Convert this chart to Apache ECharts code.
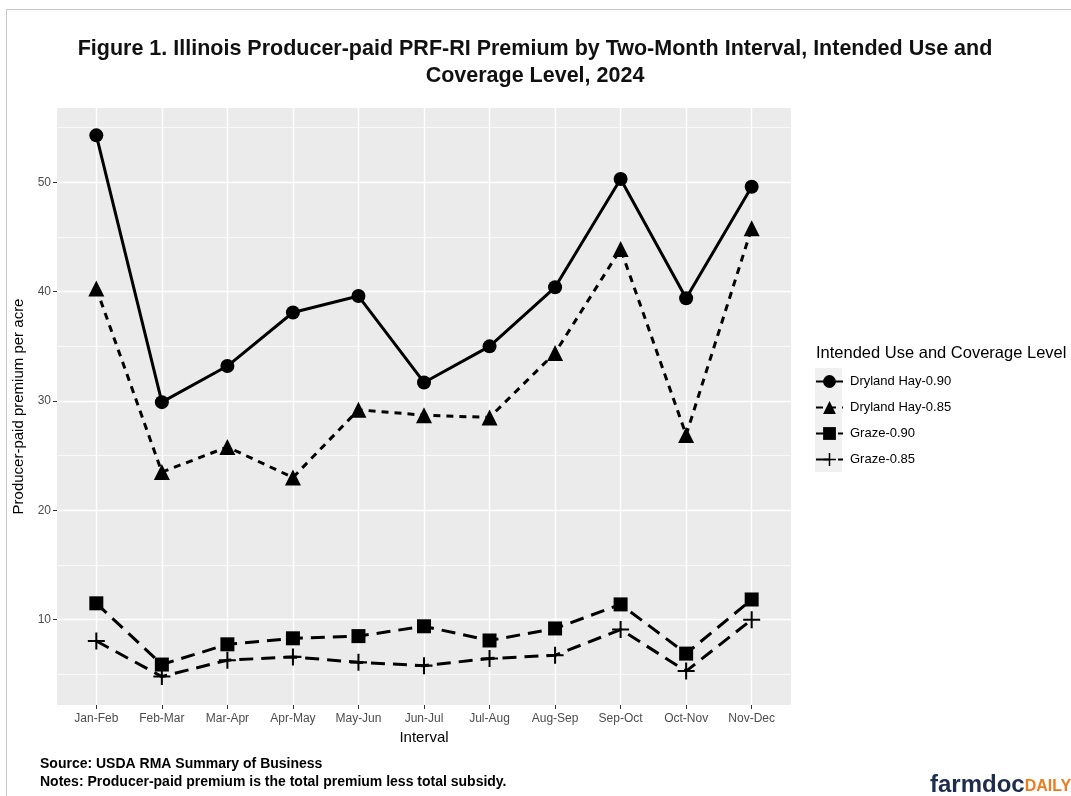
<!DOCTYPE html>
<html>
<head>
<meta charset="utf-8">
<script src="https://cdn.jsdelivr.net/npm/echarts@6/dist/echarts.min.js"></script>
<style>
  html, body { margin: 0; padding: 0; background: #fff; }
  #chart { width: 1071px; height: 796px; }
</style>
</head>
<body>
<div id="chart"></div>
<script>
// two-month intervals
var intervals = ['Jan-Feb', 'Feb-Mar', 'Mar-Apr', 'Apr-May', 'May-Jun', 'Jun-Jul',
                 'Jul-Aug', 'Aug-Sep', 'Sep-Oct', 'Oct-Nov', 'Nov-Dec'];

// producer-paid premium per acre
var hay90   = [54.3, 29.9, 33.2, 38.1, 39.6, 31.7, 35.0, 40.4, 50.3, 39.4, 49.6];
var hay85   = [40.3, 23.5, 25.8, 23.0, 29.2, 28.7, 28.5, 34.4, 43.9, 26.9, 45.8];
var graze90 = [11.5, 5.9, 7.75, 8.3, 8.5, 9.4, 8.1, 9.2, 11.4, 6.9, 11.85];
var graze85 = [8.05, 4.8, 6.3, 6.6, 6.1, 5.8, 6.45, 6.75, 9.1, 5.3, 10.0];

var seriesNames = ['Dryland Hay-0.90', 'Dryland Hay-0.85', 'Graze-0.90', 'Graze-0.85'];

var yMajor = [10, 20, 30, 40, 50];
var yMinor = [5, 15, 25, 35, 45, 55];

var plusPath = 'path://M4.4,0 H5.6 V4.4 H10 V5.6 H5.6 V10 H4.4 V5.6 H0 V4.4 H4.4 Z';

function pairs(vals) {
  var out = [];
  for (var i = 0; i < vals.length; i++) out.push([i, vals[i]]);
  return out;
}

function makeSeries(name, vals, symbol, size, dash, width) {
  return {
    name: name,
    type: 'line',
    xAxisIndex: 0,
    yAxisIndex: 0,
    data: pairs(vals),
    symbol: symbol,
    symbolSize: size,
    showAllSymbol: true,
    color: '#000',
    lineStyle: { color: '#000', width: width, type: dash },
    itemStyle: { color: '#000' },
    emphasis: { disabled: true },
    z: 3
  };
}

var font = '"Liberation Sans", Arial, sans-serif';
var chart = echarts.init(document.getElementById('chart'), null, { renderer: 'canvas' });

var option = {
  backgroundColor: '#fff',
  animation: false,
  textStyle: { fontFamily: font },
  title: [
    {
      text: 'Figure 1. Illinois Producer-paid PRF-RI Premium by Two-Month Interval, Intended Use and\nCoverage Level, 2024',
      left: 535, top: 36, textAlign: 'center', padding: 0,
      textStyle: { fontSize: 21.5, fontWeight: 'bold', color: '#111', lineHeight: 27, fontFamily: font }
    },
    {
      text: 'Intended Use and Coverage Level',
      left: 816, top: 345, padding: 0,
      textStyle: { fontSize: 16.5, fontWeight: 'normal', color: '#000', fontFamily: font }
    },
    {
      text: 'Source: USDA RMA Summary of Business\nNotes: Producer-paid premium is the total premium less total subsidy.',
      left: 40, top: 755, padding: 0,
      textStyle: { fontSize: 14, fontWeight: 'bold', color: '#000', lineHeight: 18, fontFamily: font }
    },
    {
      text: '{a|farmdoc}{b|DAILY}',
      left: 930, top: 773, padding: 0,
      textStyle: {
        fontFamily: font,
        rich: {
          a: { fontSize: 24, fontWeight: 'bold', color: '#1F2D4D', fontFamily: font },
          b: { fontSize: 16, fontWeight: 'bold', color: '#EE7A1E', fontFamily: font, padding: [4, 0, 0, 0] }
        }
      }
    }
  ],
  graphic: [
    {
      type: 'rect', z: -10, silent: true,
      shape: { x: 6.5, y: 9.5, width: 1100, height: 1000 },
      style: { fill: 'none', stroke: '#C8C8C8', lineWidth: 1 }
    },
    {
      type: 'rect', z: -1, silent: true,
      shape: { x: 815, y: 368, width: 27, height: 104 },
      style: { fill: '#F0F0F0' }
    }
  ],
  legend: {
    data: seriesNames,
    orient: 'vertical',
    left: 815, top: 375, padding: 0,
    itemWidth: 27, itemHeight: 16,
    itemGap: 13,
    selectedMode: false,
    textStyle: { fontSize: 13, color: '#000', fontFamily: font, padding: [0, 0, 0, 2] }
  },
  grid: {
    left: 57, right: 280, top: 108, bottom: 91,
    show: true, backgroundColor: '#EBEBEB', borderWidth: 0,
    containLabel: false
  },
  xAxis: [{
    type: 'value',
    min: -0.6, max: 10.6,
    name: 'Interval',
    nameLocation: 'middle',
    nameGap: 24,
    nameTextStyle: { fontSize: 15, color: '#000', fontFamily: font },
    axisLine: { show: false, onZero: false },
    axisTick: { show: true, length: 4, lineStyle: { color: '#333', width: 1 },
                customValues: intervals.map(function (d, i) { return i; }) },
    axisLabel: {
      customValues: intervals.map(function (d, i) { return i; }),
      formatter: function (v) { return intervals[Math.round(v)]; },
      fontSize: 12, color: '#4D4D4D', margin: 8, fontFamily: font
    },
    splitLine: { show: true, lineStyle: { color: '#fff', width: 1.4 } }
  }],
  yAxis: [
    {
      type: 'value',
      min: 2.2, max: 56.8,
      name: 'Producer-paid premium per acre',
      nameLocation: 'middle',
      nameGap: 21,
      nameTextStyle: { fontSize: 15, color: '#000', fontFamily: font },
      axisLine: { show: false, onZero: false },
      axisTick: { show: true, length: 4, lineStyle: { color: '#333', width: 1 }, customValues: yMajor },
      axisLabel: { customValues: yMajor, fontSize: 12, color: '#4D4D4D', margin: 6, fontFamily: font },
      splitLine: { show: true, lineStyle: { color: '#fff', width: 1.4 } },
      z: 2
    },
    {
      type: 'value',
      min: 2.2, max: 56.8,
      show: true,
      axisLine: { show: false, onZero: false },
      axisTick: { show: false, customValues: yMinor },
      axisLabel: { show: false, customValues: yMinor },
      splitLine: { show: true, lineStyle: { color: '#fff', width: 0.7 } },
      z: 1
    }
  ],
  series: [
    makeSeries(seriesNames[0], hay90, 'circle', 14, 'solid', 3),
    makeSeries(seriesNames[1], hay85, 'triangle', 16, [7, 6], 3),
    makeSeries(seriesNames[2], graze90, 'rect', 14, [14, 8], 3),
    makeSeries(seriesNames[3], graze85, plusPath, 17, [14, 8], 3)
  ]
};

chart.setOption(option);
</script>
</body>
</html>
